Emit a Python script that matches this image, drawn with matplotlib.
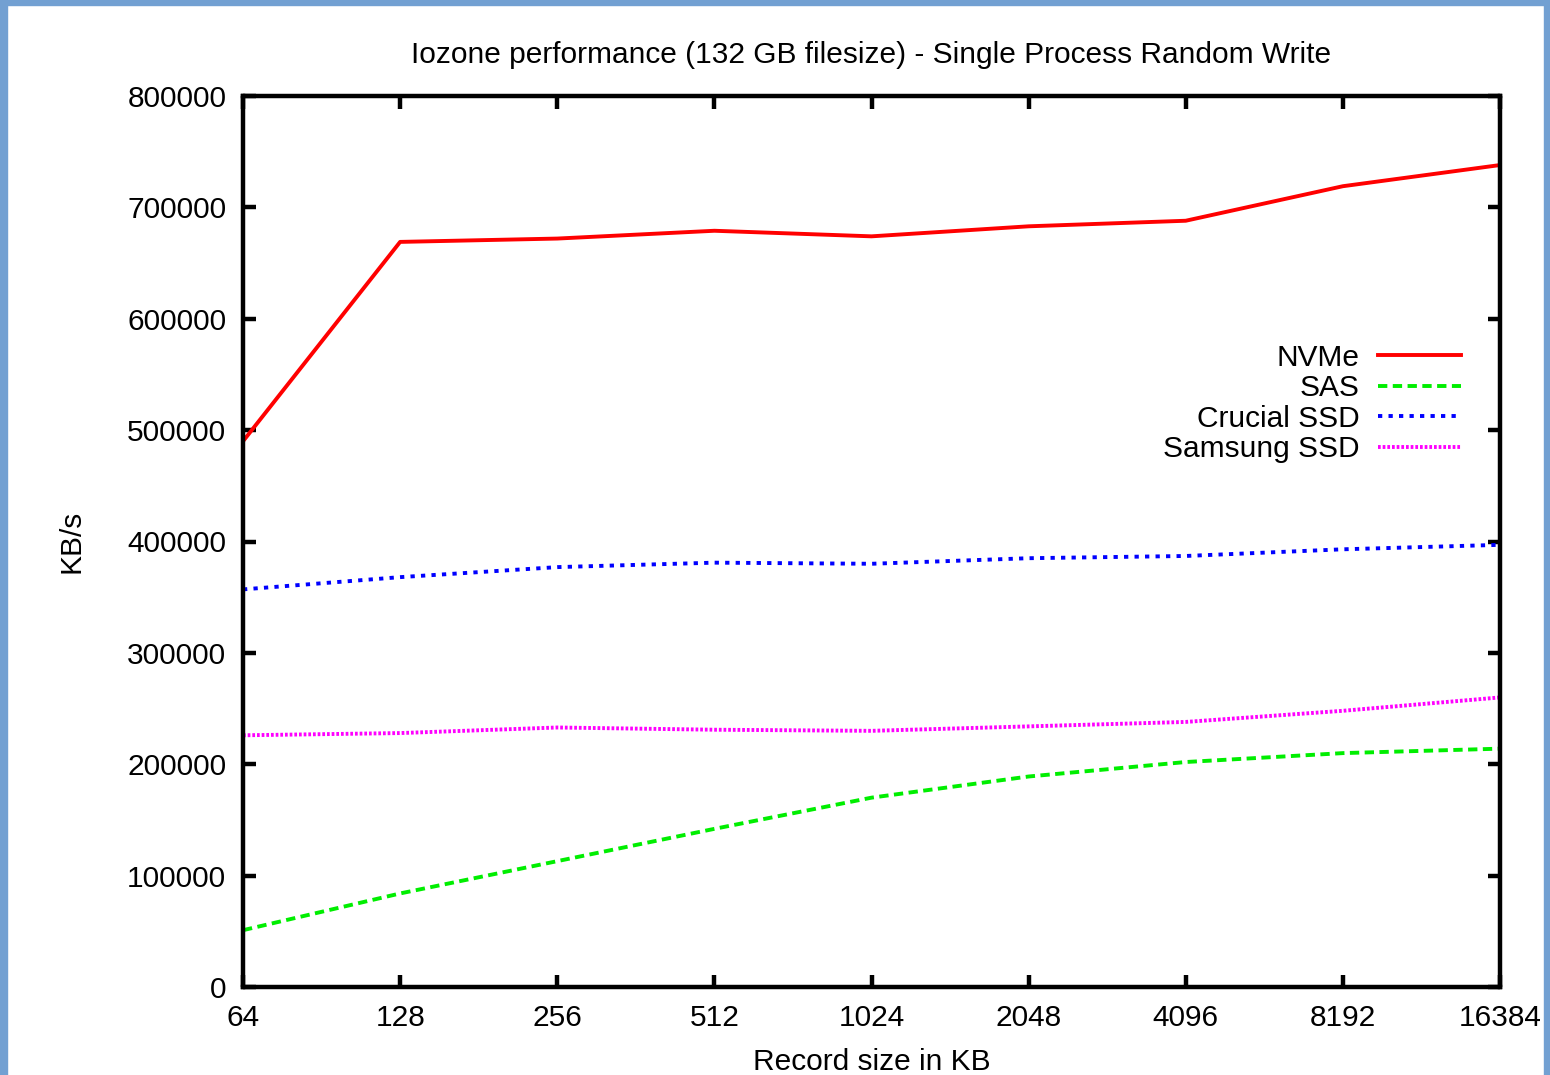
import matplotlib.pyplot as plt
from matplotlib.patches import Rectangle

# Daten
record_kb = [64, 128, 256, 512, 1024, 2048, 4096, 8192, 16384]
nvme = [490000, 669000, 672000, 679000, 674000, 683000, 688000, 719000, 738000]
sas = [51000, 84000, 113000, 142000, 170000, 189000, 202000, 210000, 214000]
crucial = [357000, 368000, 377000, 381000, 380000, 385000, 387000, 393000, 397000]
samsung = [226000, 228000, 233000, 231000, 230000, 234000, 238000, 248000, 260000]
y_ticks = [0, 100000, 200000, 300000, 400000, 500000, 600000, 700000, 800000]

plt.rcParams['font.family'] = ['Liberation Sans', 'DejaVu Sans']
fs = 21.5

fig = plt.figure(figsize=(15.5, 10.75), dpi=100)
ax = fig.add_axes([243 / 1550, 1 - 987 / 1075, 1257 / 1550, 891 / 1075])

lw = 2.8
ax.plot(record_kb, nvme, color='#ff0000', lw=lw, label='NVMe')
ax.plot(record_kb, sas, color='#00ee00', lw=lw, dashes=(2.4, 1.4), label='SAS')
ax.plot(record_kb, crucial, color='#0000ff', lw=lw, dashes=(1.1, 1.6), label='Crucial SSD')
ax.plot(record_kb, samsung, color='#ff00ff', lw=lw, dashes=(0.7, 0.5), label='Samsung SSD')

ax.set_xscale('log', base=2)
ax.set_xlim(64, 16384)
ax.set_xticks(record_kb)
ax.set_xticklabels([str(v) for v in record_kb])
ax.minorticks_off()
ax.set_ylim(0, 800000)
ax.set_yticks(y_ticks)
ax.set_yticklabels([str(v) for v in y_ticks])

for s in ax.spines.values():
    s.set_linewidth(3.2)
ax.tick_params(direction='in', length=9, width=3.2, labelsize=fs,
               top=True, right=True, pad=12)

ax.set_title('Iozone performance (132 GB filesize) - Single Process Random Write',
             fontsize=fs, pad=24)
ax.set_xlabel('Record size in KB', fontsize=fs, labelpad=12)
ax.set_ylabel('KB/s', fontsize=fs, labelpad=30)

leg = ax.legend(loc='center right', bbox_to_anchor=(0.981, 0.655), frameon=False,
                markerfirst=False, fontsize=fs, handlelength=2.8,
                handletextpad=0.6, labelspacing=0.08, borderpad=0)
for t in leg.get_texts():
    t.set_ha('right')

# blauer Rahmen
border = '#72a0d2'
fig.patches.append(Rectangle((0, 0), 7 / 1550, 1, transform=fig.transFigure,
                             color=border, zorder=0))
fig.patches.append(Rectangle((0, 1 - 5 / 1075), 1, 5 / 1075, transform=fig.transFigure,
                             color=border, zorder=0))
fig.patches.append(Rectangle((1 - 6 / 1550, 0), 6 / 1550, 1, transform=fig.transFigure,
                             color=border, zorder=0))

fig.savefig('out.png', dpi=100)
